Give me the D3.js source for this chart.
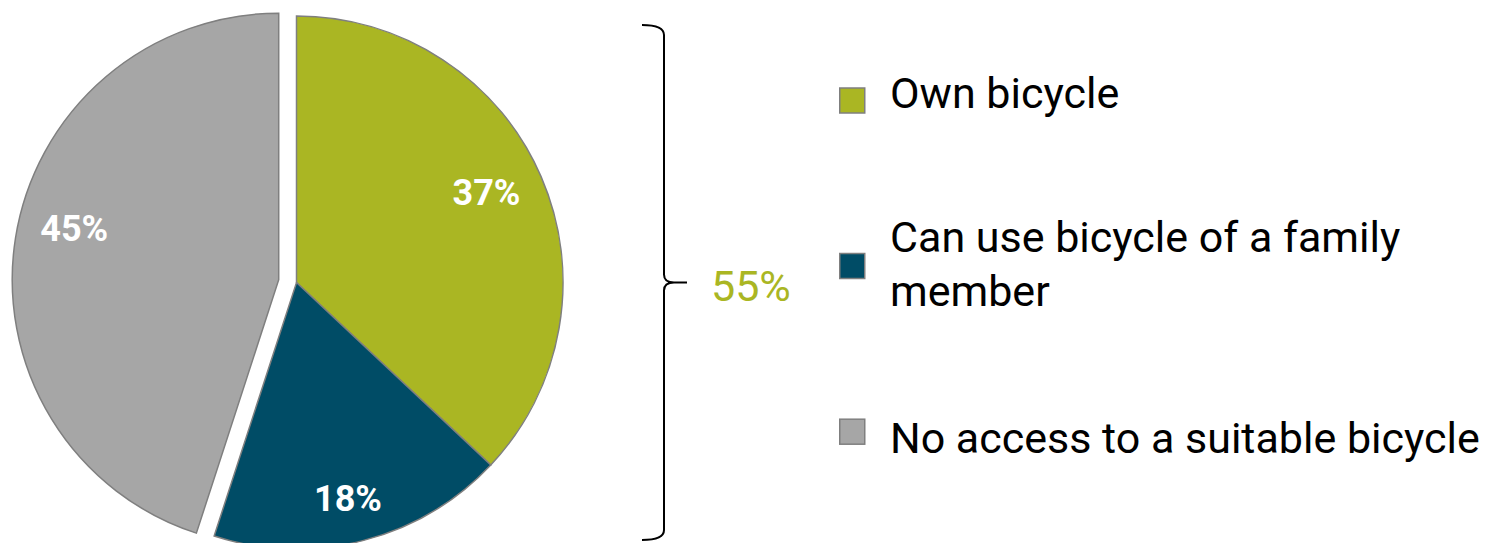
<!DOCTYPE html>
<html>
<head>
<meta charset="utf-8">
<script src="https://cdn.jsdelivr.net/npm/d3@7/dist/d3.min.js"></script>
<style>
  html, body { margin: 0; padding: 0; background: #fff; }
  svg { display: block; }
  text { font-family: Roboto, "Noto Sans", sans-serif; }
</style>
</head>
<body>
<svg id="chart" width="1490" height="543"></svg>
<script>
// Bicycle access shares (percent)
const categories = ["Own bicycle", "Can use bicycle of a family member", "No access to a suitable bicycle"];
const values = [37, 18, 45];
const colors = ["#aab623", "#004c66", "#a6a6a6"];
const legendLines = [["Own bicycle"], ["Can use bicycle of a family", "member"], ["No access to a suitable bicycle"]];
const bracketLabel = "55%";   // own + family member

// layout
const cx = 296.5, cy = 282.5, R = 266.5;
const explode = [0, 0, 18];          // pull-out distance per slice
const labelRadius = 207;
const labelShift = [-8, 15, -19];    // vertical nudge of the value labels
const swatchY = [100.5, 266, 431.7]; // legend swatch centres
const textY = [108, 252, 452.7];     // legend first-line baselines
const lineH = 54;

const svg = d3.select("#chart");

const pie = d3.pie().sort(null).value(d => d)(values);
const arc = d3.arc().innerRadius(0).outerRadius(R);
const labelArc = d3.arc().innerRadius(labelRadius).outerRadius(labelRadius);

function offset(d, i) {
  const a = (d.startAngle + d.endAngle) / 2;
  return [Math.sin(a) * explode[i], -Math.cos(a) * explode[i]];
}

const g = svg.append("g").attr("transform", `translate(${cx},${cy})`);

const slices = g.selectAll("g.slice").data(pie).join("g")
  .attr("class", "slice")
  .attr("transform", (d, i) => { const o = offset(d, i); return `translate(${o[0]},${o[1]})`; });

slices.append("path")
  .attr("d", arc)
  .attr("fill", (d, i) => colors[i])
  .attr("stroke", "#7f7f7f")
  .attr("stroke-width", 1.5)
  .attr("stroke-linejoin", "miter");

slices.append("text")
  .attr("x", d => labelArc.centroid(d)[0])
  .attr("y", (d, i) => labelArc.centroid(d)[1] + labelShift[i] + 12.8)
  .attr("text-anchor", "middle")
  .attr("font-size", 36)
  .attr("font-weight", "bold")
  .attr("fill", "#ffffff")
  .text(d => d.data + "%");

// curly bracket spanning the first two categories
const bx = 664, bTop = cy - 257.5, bBot = cy + 257.5, bTip = 687;
const brace = d3.path();
brace.moveTo(642, bTop);
brace.quadraticCurveTo(bx, bTop, bx, bTop + 10);
brace.lineTo(bx, cy - 8);
brace.quadraticCurveTo(bx, cy, bx + 10, cy);
brace.lineTo(bTip, cy);
brace.moveTo(bx + 10, cy);
brace.quadraticCurveTo(bx, cy, bx, cy + 8);
brace.lineTo(bx, bBot - 10);
brace.quadraticCurveTo(bx, bBot, 642, bBot);
svg.append("path")
  .attr("d", brace.toString())
  .attr("fill", "none")
  .attr("stroke", "#000")
  .attr("stroke-width", 2);

svg.append("text")
  .attr("x", 711)
  .attr("y", cy + 18.5)
  .attr("font-size", 43)
  .attr("fill", colors[0])
  .text(bracketLabel);

// legend
const legend = svg.append("g");
const rows = legend.selectAll("g").data(categories).join("g");

rows.append("rect")
  .attr("x", 839.75).attr("y", (d, i) => swatchY[i] - 12.5)
  .attr("width", 25).attr("height", 25)
  .attr("fill", (d, i) => colors[i])
  .attr("stroke", "#7f7f7f")
  .attr("stroke-width", 1.5);

rows.append("text")
  .attr("font-size", 43)
  .attr("fill", "#000")
  .each(function (d, i) {
    d3.select(this).selectAll("tspan").data(legendLines[i]).join("tspan")
      .attr("x", 890)
      .attr("y", (t, j) => textY[i] + j * lineH)
      .text(t => t);
  });
</script>
</body>
</html>
